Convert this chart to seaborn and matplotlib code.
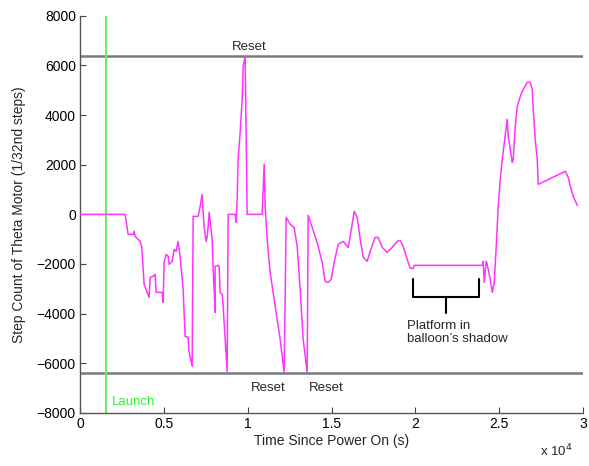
import matplotlib.pyplot as plt
import seaborn as sns
import pandas as pd

sns.set_theme(style="white")
plt.rcParams['font.family'] = ['Liberation Sans', 'DejaVu Sans']

# time since power on (s) and step count
time_s = [0, 2625, 2685, 2786, 2864, 3162, 3222, 3281, 3580, 3681, 3818, 4117, 4176, 4355,
          4475, 4534, 4892, 4952, 5011, 5131, 5250, 5310, 5489, 5608, 5727, 5847, 5906, 5966,
          6145, 6264, 6443, 6503, 6682, 6742, 7040, 7159, 7279, 7338, 7398, 7517, 7577, 7636,
          7696, 7875, 7935, 7994, 8054, 8054, 8233, 8293, 8352, 8472, 8531, 8651, 8770, 8830,
          9247, 9307, 9366, 9426, 9546, 9665, 9725, 9844, 9963, 10858, 10977, 11037, 11156,
          11335, 11634, 11932, 12171, 12290, 12529, 12767, 12946, 13125, 13304, 13543, 13602,
          13841, 14020, 14199, 14438, 14617, 14796, 14975, 15154, 15393, 15691, 15990, 16109,
          16348, 16527, 16706, 16885, 17123, 17302, 17600, 17779, 18018, 18316, 18614, 18913,
          19092, 19271, 19510, 19688, 19867, 19927, 23984, 24043, 24103, 24222, 24282, 24461,
          24580, 24700, 24819, 24938, 25058, 25177, 25475, 25535, 25773, 25833, 25952, 26072,
          26251, 26430, 26668, 26847, 26967, 27026, 27146, 27265, 27325, 28936, 29115, 29235,
          29414, 29653]
steps = [0, 0, 0, -472, -806, -806, -685, -887, -1088, -1330, -2821, -3345, -2539, -2499,
         -2418, -3143, -3143, -3546, -1934, -1612, -1693, -2015, -1894, -1410, -1491, -1088,
         -1410, -1693, -3022, -4917, -4957, -5561, -6126, -81, -81, 322, 806, 81, -524, -1088,
         -927, -484, 81, -1008, -2217, -3022, -3949, -2096, -2055, -2096, -3143, -3224, -3708,
         -5038, -6327, 0, 0, -322, 605, 2217, 3305, 4635, 5965, 6368, 0, 0, 2015, 322, -1008,
         -2337, -3708, -5038, -6368, -121, -403, -524, -1290, -3022, -5038, -6368, -40, -524,
         -887, -1290, -1934, -2700, -2741, -2620, -1934, -1209, -1088, -1330, -887, 121, -121,
         -1008, -1733, -1894, -1491, -927, -927, -1330, -1531, -1330, -1088, -1048, -1290,
         -1814, -2176, -2176, -2055, -2055, -1894, -2741, -1894, -2015, -2620, -3143, -2741,
         -1290, 322, 1410, 2217, 3829, 3143, 2096, 2217, 3546, 4352, 4755, 5038, 5320, 5320,
         5038, 4232, 3022, 2217, 1209, 1733, 1491, 1128, 725, 363]

reset_limits = [6400, -6400]
launch_time = 1550
shadow_start, shadow_end = 19867, 23805

x_ticks = [0, 5000, 10000, 15000, 20000, 25000, 30000]
x_tick_labels = ['0', '0.5', '1', '1.5', '2', '2.5', '3']
y_ticks = [-8000, -6000, -4000, -2000, 0, 2000, 4000, 6000, 8000]

df = pd.DataFrame({'t': time_s, 'steps': steps})

fig = plt.figure(figsize=(5.89, 4.66), dpi=100)
ax = fig.add_axes([0.136, 0.114, 0.854, 0.852])

for lim in reset_limits:
    ax.axhline(lim, color='#7a7a7a', linewidth=1.8, zorder=1)
ax.axvline(launch_time, color='#66ee66', linewidth=1.5, zorder=1)

sns.lineplot(data=df, x='t', y='steps', ax=ax, sort=False, estimator=None,
             color='#ff33ff', linewidth=1.1, zorder=3)

# bracket for the shadow interval
bt, bb, stem = -2620, -3345, -3990
mid = (shadow_start + shadow_end) / 2
ax.plot([shadow_start, shadow_start, shadow_end, shadow_end], [bt, bb, bb, bt],
        color='black', linewidth=1.5)
ax.plot([mid, mid], [bb, stem], color='black', linewidth=1.5)

ax.text(10083, 6520, 'Reset', fontsize=9.5, ha='center', va='bottom')
ax.text(11216, -6750, 'Reset', fontsize=9.5, ha='center', va='top')
ax.text(14676, -6750, 'Reset', fontsize=9.5, ha='center', va='top')
ax.text(1900, -7300, 'Launch', fontsize=9.5, color='#33ee33', ha='left', va='top')
ax.text(19500, -4250, 'Platform in\nballoon\u2019s shadow', fontsize=9.5, ha='left',
        va='top', linespacing=1.15)

ax.set_xlim(0, 30000)
ax.set_ylim(-8000, 8000)
ax.set_xticks(x_ticks)
ax.set_xticklabels(x_tick_labels)
ax.set_yticks(y_ticks)
ax.tick_params(direction='in', length=4, width=0.8, colors='#444444', labelcolor='black',
               labelsize=10, bottom=True, left=True, pad=3)
for side in ['top', 'right']:
    ax.spines[side].set_visible(False)
for side in ['left', 'bottom']:
    ax.spines[side].set_color('#555555')
    ax.spines[side].set_linewidth(1.0)

ax.set_xlabel('Time Since Power On (s)', fontsize=10, labelpad=2)
ax.set_ylabel('Step Count of Theta Motor (1/32nd steps)', fontsize=10, labelpad=8)
fig.text(0.945, 0.015, 'x 10$^4$', fontsize=9.5, ha='center', va='bottom')

fig.savefig('out.png', dpi=100)
